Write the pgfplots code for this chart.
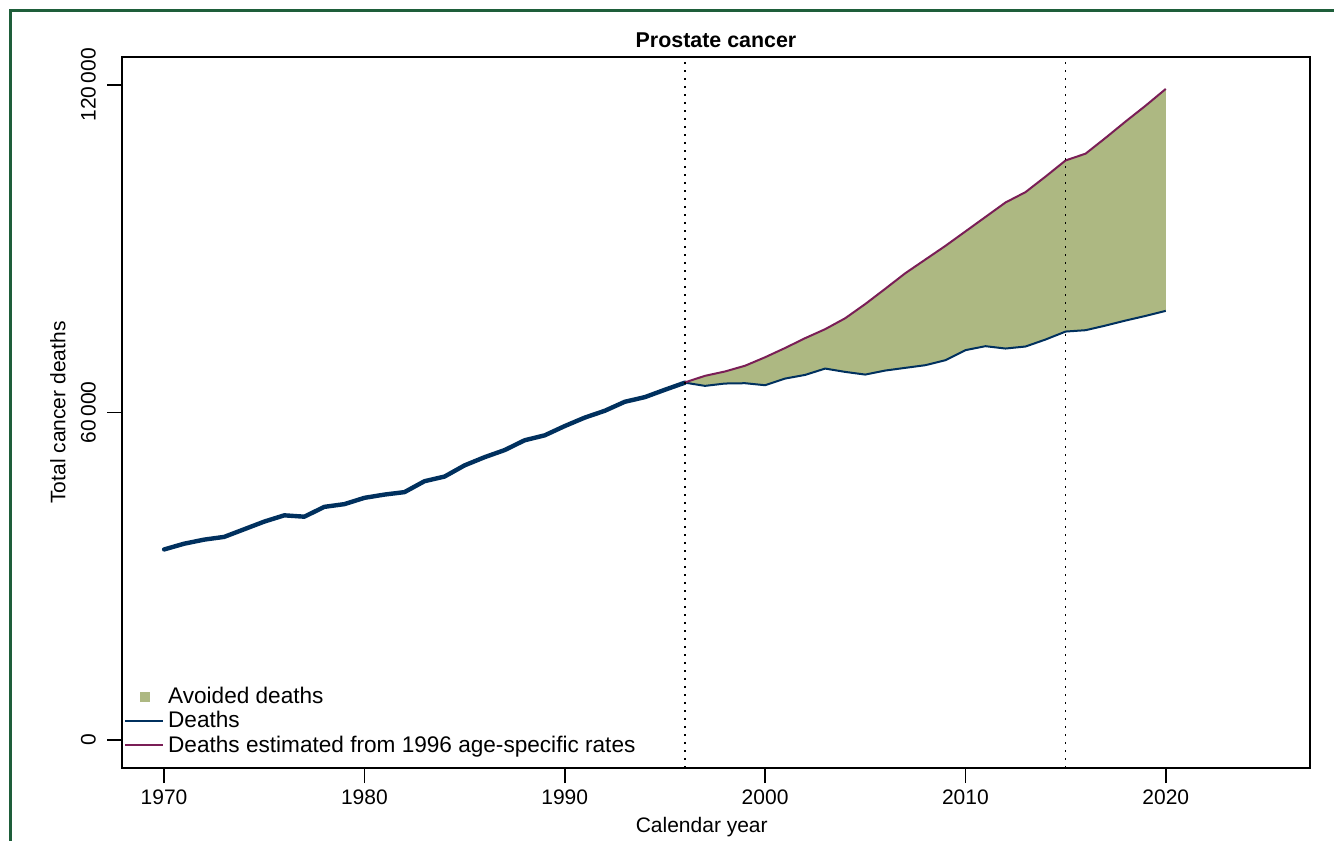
\documentclass[border=0pt]{standalone}
\usepackage{pgfplots}
\pgfplotsset{compat=1.18}
\usepgfplotslibrary{fillbetween}
\usepackage{fontspec}
\setmainfont{Liberation Sans}
\definecolor{navy}{RGB}{0,48,94}
\definecolor{plum}{RGB}{122,30,86}
\definecolor{olivefill}{RGB}{173,184,130}
\definecolor{framegreen}{RGB}{30,94,58}
\pgfplotstableread{
year deaths
1970 34900
1971 35950
1972 36700
1973 37200
1974 38600
1975 40000
1976 41150
1977 40900
1978 42700
1979 43200
1980 44350
1981 44950
1982 45400
1983 47400
1984 48250
1985 50300
1986 51800
1987 53100
1988 54900
1989 55800
1990 57500
1991 59050
1992 60300
1993 61950
1994 62800
1995 64150
1996 65450
}\earlytab
\pgfplotstableread{
year deaths
1996 65450
1997 64860
1998 65290
1999 65350
2000 64980
2001 66200
2002 66870
2003 68030
2004 67420
2005 66930
2006 67670
2007 68160
2008 68650
2009 69560
2010 71400
2011 72130
2012 71700
2013 72070
2014 73350
2015 74810
2016 75060
2017 75910
2018 76830
2019 77680
2020 78600
}\latetab
\pgfplotstableread{
year est
1996 65500
1997 66700
1998 67500
1999 68550
2000 70100
2001 71800
2002 73600
2003 75250
2004 77250
2005 79850
2006 82650
2007 85500
2008 88000
2009 90500
2010 93150
2011 95800
2012 98450
2013 100350
2014 103200
2015 106150
2016 107400
2017 110300
2018 113300
2019 116200
2020 119250
}\esttab
\begin{document}
\begin{tikzpicture}
\begin{axis}[
  at={(61pt,36.5pt)}, anchor=south west,
  scale only axis, width=594pt, height=355.5pt,
  xmin=1967.9, xmax=2027.2, ymin=-5130, ymax=125100,
  axis line style={line width=0.9pt, black},
  tick align=outside, major tick length=7.5pt,
  tick style={line width=0.9pt, black},
  xtick pos=bottom, ytick pos=left,
  xtick={1970,1980,...,2020},
  ytick={0,60000,120000},
  yticklabels={0,60\,000,120\,000},
  scaled y ticks=false,
  /pgf/number format/assume math mode=true,
  xticklabel style={/pgf/number format/1000 sep={}},
  yticklabel style={xshift=-2pt, rotate=90, anchor=south},
  every tick label/.append style={font=\fontsize{10.5}{12}\selectfont},
  title={\textbf{Prostate cancer}},
  title style={at={(axis description cs:0.5,1.007)}, anchor=center, font=\fontsize{10.7}{12}\selectfont},
  xlabel={Calendar year},
  xlabel style={at={(axis description cs:0.488,-0.0830)}, anchor=center, font=\fontsize{10.5}{12}\selectfont},
  ylabel={Total cancer deaths},
  ylabel style={at={(axis description cs:-0.0539,0.5)}, anchor=center, font=\fontsize{10.5}{12}\selectfont},
  legend style={at={(axis description cs:-0.0034,0.123)}, anchor=north west, draw=none, fill=none,
    font=\fontsize{11.3}{12}\selectfont, nodes={inner ysep=1.2pt}},
  legend cell align=left,
]
\addplot[draw=none, name path=D, forget plot] table[x=year,y=deaths] {\latetab};
\addplot[draw=none, name path=E, forget plot] table[x=year,y=est] {\esttab};
\addplot[olivefill, draw=none, forget plot] fill between[of=D and E];
\addplot[navy, line width=2.2pt, line join=round, line cap=round, forget plot] table[x=year,y=deaths] {\earlytab};
\addplot[navy, line width=1pt, line join=round, forget plot] table[x=year,y=deaths] {\latetab};
\addplot[plum, line width=1pt, line join=round, forget plot] table[x=year,y=est] {\esttab};
\draw[black, line width=0.9pt, dash pattern=on 0.9pt off 3.1pt] (axis cs:1996,-5130) -- (axis cs:1996,125100);
\draw[black, line width=0.9pt, dash pattern=on 0.9pt off 3.1pt] (axis cs:2015,-5130) -- (axis cs:2015,125100);
\addlegendimage{legend image code/.code={\fill[olivefill] (7.5pt,-2.2pt) rectangle (11.9pt,2.2pt);}}
\addlegendentry{Avoided deaths}
\addlegendimage{legend image code/.code={\draw[navy, line width=0.9pt] (0pt,0pt) -- (19pt,0pt);}}
\addlegendentry{Deaths}
\addlegendimage{legend image code/.code={\draw[plum, line width=0.9pt] (0pt,0pt) -- (19pt,0pt);}}
\addlegendentry{Deaths estimated from 1996 age-specific rates}
\end{axis}
\draw[framegreen, line width=1.5pt] (5pt,-20pt) -- (5pt,415pt) -- (690pt,415pt);
\pgfresetboundingbox
\useasboundingbox (0,0) rectangle (667pt,420.5pt);
\end{tikzpicture}
\end{document}
